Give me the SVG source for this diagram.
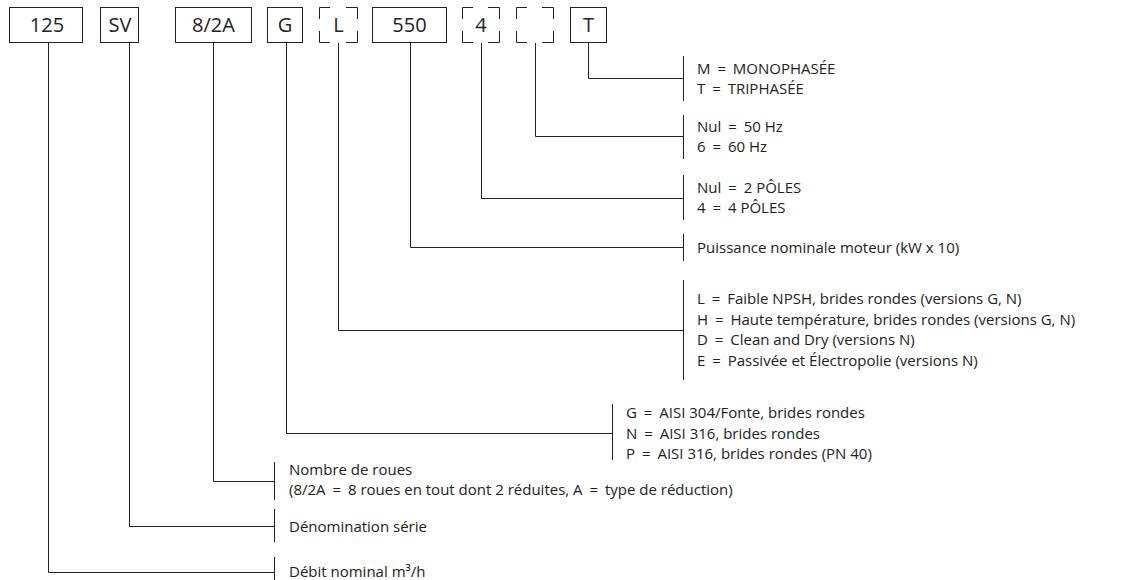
<svg xmlns="http://www.w3.org/2000/svg" width="1132" height="580" viewBox="0 0 1132 580">
<style>
.box{fill:#fff;stroke:#222;stroke-width:1}
.dbox{fill:none;stroke:#222;stroke-width:1}
.ln{fill:none;stroke:#222;stroke-width:1}
.bt{font-family:"Open Sans",sans-serif;font-size:20px;fill:#222;text-anchor:middle}
.t{font-family:"Open Sans",sans-serif;font-size:15px;fill:#222}
</style>
<rect width="1132" height="580" fill="#fff"/>
<g id="n125"><rect class="box" x="9.5" y="7.5" width="73" height="35"/><text class="bt" x="47" y="32">125</text></g>
<g id="nSV"><rect class="box" x="100.5" y="7.5" width="38" height="35"/><text class="bt" x="120" y="32">SV</text></g>
<g id="n82A"><rect class="box" x="175.5" y="7.5" width="76" height="35"/><text class="bt" x="213.5" y="32">8/2A</text></g>
<g id="nG"><rect class="box" x="267.5" y="7.5" width="35" height="35"/><text class="bt" x="285" y="32">G</text></g>
<g id="nL"><path class="dbox" d="M319.5 19V7.5H330M346 7.5H357.5V19M357.5 31V42.5H346M330 42.5H319.5V31"/><text class="bt" x="338.5" y="32">L</text></g>
<g id="n550"><rect class="box" x="372.5" y="7.5" width="74" height="35"/><text class="bt" x="409.5" y="32">550</text></g>
<g id="n4"><path class="dbox" d="M462.5 19V7.5H473M488 7.5H499.5V19M499.5 31V42.5H488M473 42.5H462.5V31"/><text class="bt" x="481" y="32">4</text></g>
<g id="nHz"><path class="dbox" d="M516.5 19V7.5H527M542 7.5H553.5V19M553.5 31V42.5H542M527 42.5H516.5V31"/></g>
<g id="nT"><rect class="box" x="570.5" y="7.5" width="36" height="35"/><text class="bt" x="588.5" y="32">T</text></g>
<g id="connectors">
<path class="ln" d="M588.5 43V78.5H683"/><path class="ln" d="M683.5 56V101"/>
<path class="ln" d="M535.5 43V136.5H683"/><path class="ln" d="M683.5 115V159"/>
<path class="ln" d="M481.5 43V198.5H683"/><path class="ln" d="M683.5 175V220"/>
<path class="ln" d="M410.5 43V247.5H683"/><path class="ln" d="M683.5 234V261"/>
<path class="ln" d="M338.5 43V330.5H683"/><path class="ln" d="M683.5 280V380"/>
<path class="ln" d="M286.5 43V433.5H612"/><path class="ln" d="M612.5 404V460"/>
<path class="ln" d="M213.5 43V481.5H274"/><path class="ln" d="M274.5 462V500"/>
<path class="ln" d="M129.5 43V526.5H274"/><path class="ln" d="M274.5 509V542"/>
<path class="ln" d="M48.5 43V572.5H274"/><path class="ln" d="M274.5 557V580"/>
</g>
<g id="labels">
<text class="t" x="697" y="73.5">M <tspan dx="3">=</tspan><tspan dx="3"> MONOPHASÉE</tspan></text>
<text class="t" x="697" y="94">T <tspan dx="3">=</tspan><tspan dx="3"> TRIPHASÉE</tspan></text>
<text class="t" x="697" y="131.5">Nul <tspan dx="3">=</tspan><tspan dx="3"> 50 Hz</tspan></text>
<text class="t" x="697" y="152">6 <tspan dx="3">=</tspan><tspan dx="3"> 60 Hz</tspan></text>
<text class="t" x="697" y="192.5">Nul <tspan dx="3">=</tspan><tspan dx="3"> 2 PÔLES</tspan></text>
<text class="t" x="697" y="213">4 <tspan dx="3">=</tspan><tspan dx="3"> 4 PÔLES</tspan></text>
<text class="t" x="697" y="252.5">Puissance nominale moteur (kW x 10)</text>
<text class="t" x="697" y="304">L <tspan dx="3">=</tspan><tspan dx="3"> Faible NPSH, brides rondes (versions G, N)</tspan></text>
<text class="t" x="697" y="324.5">H <tspan dx="3">=</tspan><tspan dx="3"> Haute température, brides rondes (versions G, N)</tspan></text>
<text class="t" x="697" y="345">D <tspan dx="3">=</tspan><tspan dx="3"> Clean and Dry (versions N)</tspan></text>
<text class="t" x="697" y="365.5">E <tspan dx="3">=</tspan><tspan dx="3"> Passivée et Électropolie (versions N)</tspan></text>
<text class="t" x="626" y="418">G <tspan dx="3">=</tspan><tspan dx="3"> AISI 304/Fonte, brides rondes</tspan></text>
<text class="t" x="626" y="438.5">N <tspan dx="3">=</tspan><tspan dx="3"> AISI 316, brides rondes</tspan></text>
<text class="t" x="626" y="459">P <tspan dx="3">=</tspan><tspan dx="3"> AISI 316, brides rondes (PN 40)</tspan></text>
<text class="t" x="289" y="474.5">Nombre de roues</text>
<text class="t" x="289" y="495">(8/2A <tspan dx="3">=</tspan><tspan dx="3"> 8 roues en tout dont 2 réduites, A </tspan><tspan dx="3">=</tspan><tspan dx="3"> type de réduction)</tspan></text>
<text class="t" x="289" y="531.5">Dénomination série</text>
<text class="t" x="289" y="577">Débit nominal m³/h</text>
</g>
</svg>
